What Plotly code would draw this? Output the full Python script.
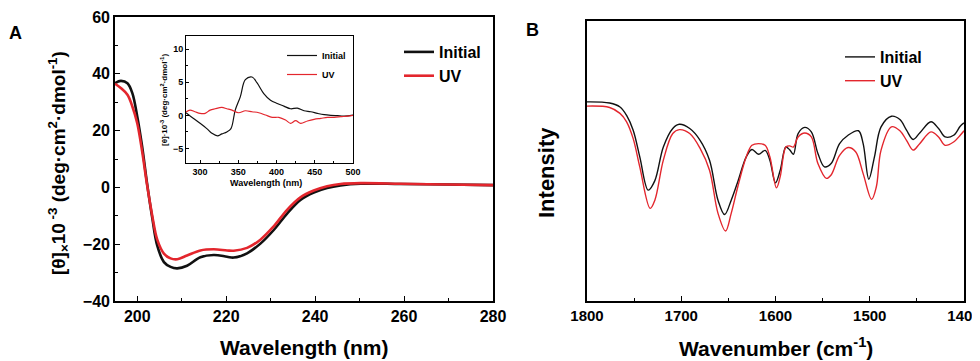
import plotly.graph_objects as go

# ---------------- Panel A: CD spectra (far-UV) ----------------
a_wl_init = [195, 196.3, 197.8, 198.9, 200, 201.1, 202.2, 203.4, 204.5, 206, 207.5, 209, 211.2,
             214.2, 217.2, 220.2, 221.7, 224.7, 227.7, 230.7, 233.7, 236.7, 239.7, 242.7,
             245.7, 250.2, 259.2, 270, 280]
a_init = [36.7, 37.5, 36.7, 33.2, 25.0, 14.4, 1.5, -11.0, -20.5, -26.3, -28.0, -28.5, -27.6,
          -24.6, -23.8, -24.4, -24.7, -23.2, -19.8, -15.0, -9.2, -4.4, -1.8, -0.2,
          0.7, 1.3, 1.2, 1.0, 0.8]
a_wl_uv = [195, 196.3, 197.8, 198.9, 200, 201.1, 202.2, 203.4, 204.5, 206, 207.5, 209, 211.2,
           214.2, 217.2, 220.2, 221.7, 224.7, 227.7, 230.7, 233.7, 236.7, 239.7, 242.7,
           245.7, 250.2, 259.2, 270, 280]
a_uv = [36.5, 35.0, 32.6, 28.5, 22.6, 12.7, 1.0, -10.2, -18.4, -23.3, -25.0, -25.3, -24.0,
        -22.2, -21.8, -22.2, -22.3, -21.3, -18.4, -13.7, -7.9, -3.5, -1.1, 0.4,
        1.2, 1.5, 1.3, 1.0, 0.8]

# ---------------- Inset: near-UV CD ----------------
i_wl_init = [281.6, 291, 300, 308.8, 315.4, 322.8, 328.5, 335, 340.4, 346, 352.6, 359.2, 368,
             374.6, 383.3, 392.1, 400.9, 409.6, 418.4, 427.2, 436, 444.7, 453.5, 462.3,
             471, 479.8, 488.6, 500]
i_init = [0.4, -0.45, -1.2, -2.0, -2.7, -3.1, -2.8, -2.5, -2.0, 0.8, 2.8, 5.4, 5.8,
          4.9, 3.3, 2.3, 1.8, 1.4, 1.0, 1.1, 0.7, 0.55, 0.3, 0.1,
          0.0, -0.05, -0.1, 0.05]
i_wl_uv = [281.6, 286.8, 293.4, 300, 306.6, 313.2, 319.7, 328.5, 335, 341.7, 350.4, 359.2, 368,
           376.8, 385.5, 394.3, 403, 411.8, 418.4, 425, 431.6, 440.4, 449.1, 457.9,
           466.7, 475.4, 484.2, 493, 500]
i_uv = [0.5, 0.8, 0.55, 0.3, 0.3, 0.8, 1.0, 1.2, 1.0, 0.8, 0.4, 0.7, 0.55,
        0.4, 0.05, -0.3, -0.3, -0.7, -1.2, -0.8, -1.2, -0.85, -0.6, -0.45,
        -0.3, -0.3, -0.2, -0.1, 0.0]

# ---------------- Panel B: FTIR ----------------
b_wn_init = [1800, 1776, 1765, 1758, 1751, 1744, 1735, 1728, 1719, 1709, 1702, 1691, 1680, 1670,
             1661, 1654, 1647, 1640, 1631, 1625, 1618, 1611, 1606, 1600, 1595, 1589, 1585,
             1581, 1576, 1569, 1562, 1555, 1548, 1541, 1532, 1523, 1512, 1507, 1501, 1495,
             1488, 1477, 1468, 1461, 1454, 1447, 1435, 1427, 1420, 1411, 1404, 1400]
b_init = [71.1, 70.7, 69.3, 66.3, 61.0, 51.5, 39.6, 43.0, 55.0, 61.6, 63.1, 61.6, 57.4, 50.3,
          36.0, 30.9, 36.0, 42.6, 51.5, 54.1, 52.4, 53.8, 50.3, 42.2, 46.7, 55.0, 54.0,
          52.4, 59.8, 62.0, 60.4, 52.7, 47.9, 49.1, 56.2, 59.2, 60.8, 56.2, 43.5, 51.5,
          62.2, 66.0, 64.8, 61.0, 57.7, 60.0, 64.0, 61.6, 58.6, 59.2, 62.4, 63.6]
b_wn_uv = [1800, 1776, 1765, 1758, 1751, 1744, 1733, 1728, 1719, 1709, 1702, 1691, 1680, 1670,
           1661, 1653, 1647, 1640, 1631, 1625, 1618, 1611, 1606, 1599, 1595, 1589, 1585,
           1581, 1576, 1569, 1562, 1555, 1546, 1541, 1532, 1523, 1515, 1507, 1498, 1493,
           1488, 1477, 1468, 1461, 1454, 1447, 1435, 1427, 1420, 1411, 1404, 1400]
b_uv = [69.6, 69.1, 67.0, 64.0, 58.0, 47.9, 33.1, 36.0, 50.3, 59.8, 61.2, 59.8, 54.5, 46.7,
        31.3, 25.0, 31.3, 40.8, 51.5, 55.6, 56.2, 55.6, 51.5, 40.4, 44.4, 55.0, 55.4,
        55.0, 58.6, 60.0, 58.6, 49.1, 43.8, 45.0, 52.0, 54.8, 53.3, 45.5, 36.3, 40.8,
        53.9, 62.2, 60.8, 57.4, 53.9, 56.2, 60.4, 58.6, 55.6, 56.8, 59.2, 60.8]

BLACK = "#111111"
RED = "#e3262d"
FONT = "Arial, Liberation Sans, sans-serif"

fig = go.Figure()

fig.add_trace(go.Scatter(x=a_wl_init, y=a_init, mode="lines", name="Initial",
                         line=dict(color=BLACK, width=2.6, shape="spline"),
                         xaxis="x", yaxis="y", legend="legend"))
fig.add_trace(go.Scatter(x=a_wl_uv, y=a_uv, mode="lines", name="UV",
                         line=dict(color=RED, width=2.6, shape="spline"),
                         xaxis="x", yaxis="y", legend="legend"))
fig.add_trace(go.Scatter(x=i_wl_init, y=i_init, mode="lines", name="Initial",
                         line=dict(color=BLACK, width=1.2, shape="spline"),
                         xaxis="x2", yaxis="y2", legend="legend2"))
fig.add_trace(go.Scatter(x=i_wl_uv, y=i_uv, mode="lines", name="UV",
                         line=dict(color=RED, width=1.2, shape="spline"),
                         xaxis="x2", yaxis="y2", legend="legend2"))
fig.add_trace(go.Scatter(x=b_wn_init, y=b_init, mode="lines", name="Initial",
                         line=dict(color=BLACK, width=1.4, shape="spline"),
                         xaxis="x3", yaxis="y3", legend="legend3"))
fig.add_trace(go.Scatter(x=b_wn_uv, y=b_uv, mode="lines", name="UV",
                         line=dict(color=RED, width=1.4, shape="spline"),
                         xaxis="x3", yaxis="y3", legend="legend3"))

# page body has an 8px default margin; the figure fills the rest of the window
OFF = 8
W, H = 980 - OFF, 361 - OFF
def dx(p): return (p - OFF) / W
def dy(p): return 1 - (p - OFF) / H

common = dict(showline=True, linecolor="black", mirror=True, showgrid=False, zeroline=False,
              ticks="inside", tickcolor="black", automargin=False, ticklabeloverflow="allow")

fig.update_layout(
    width=W, height=H, margin=dict(l=0, r=0, t=0, b=0, autoexpand=False),
    paper_bgcolor="white", plot_bgcolor="white",
    font=dict(family=FONT, color="black"),
    xaxis=dict(**common, domain=[dx(115), dx(493)], range=[195, 280], dtick=20, tick0=200,
               ticklen=5, linewidth=1.6,
               tickfont=dict(size=16, family=FONT, weight="bold"),
               minor=dict(dtick=10, tick0=200, ticklen=3, ticks="inside", tickcolor="black"),
               anchor="y"),
    yaxis=dict(**common, domain=[dy(301), dy(17)], range=[-40, 60], dtick=20,
               ticklen=5, linewidth=1.6,
               tickfont=dict(size=16, family=FONT, weight="bold"),
               minor=dict(dtick=10, ticklen=3, ticks="inside", tickcolor="black"),
               anchor="x"),
    xaxis2=dict(**common, domain=[dx(186), dx(353)], range=[281.6, 500], dtick=50, tick0=300,
                ticklen=3, linewidth=1,
                tickfont=dict(size=9, family=FONT, weight="bold"),
                minor=dict(dtick=25, tick0=300, ticklen=2, ticks="inside", tickcolor="black"),
                anchor="y2"),
    yaxis2=dict(**common, domain=[dy(163), dy(36)], range=[-7.2, 12], dtick=5,
                ticklen=3, linewidth=1,
                tickfont=dict(size=9, family=FONT, weight="bold"),
                minor=dict(dtick=2.5, ticklen=2, ticks="inside", tickcolor="black"),
                anchor="x2"),
    xaxis3=dict(**common, domain=[dx(587), dx(964)], range=[1800, 1400], dtick=100, tick0=1400,
                ticklen=5, linewidth=1.6,
                tickfont=dict(size=15, family=FONT, weight="bold"),
                minor=dict(dtick=50, ticklen=3, ticks="inside", tickcolor="black"),
                anchor="y3"),
    yaxis3=dict(showline=True, linecolor="black", mirror=True, showgrid=False, zeroline=False,
                automargin=False,
                linewidth=1.6, domain=[dy(301), dy(21)], range=[0, 100], showticklabels=False,
                ticks="", anchor="x3"),
    legend=dict(x=dx(399), y=dy(35), xanchor="left", yanchor="top", bgcolor="rgba(0,0,0,0)",
                font=dict(size=16, family=FONT, weight="bold"), tracegroupgap=0, itemwidth=30),
    legend2=dict(x=dx(282), y=dy(41), xanchor="left", yanchor="top", bgcolor="rgba(0,0,0,0)",
                 font=dict(size=9, family=FONT, weight="bold"), tracegroupgap=0, itemwidth=30),
    legend3=dict(x=dx(840), y=dy(40), xanchor="left", yanchor="top", bgcolor="rgba(0,0,0,0)",
                 font=dict(size=16, family=FONT, weight="bold"), tracegroupgap=0, itemwidth=30),
    showlegend=True,
)

ann = [
    dict(text="A", x=dx(15), y=dy(33), font=dict(size=18, weight="bold")),
    dict(text="B", x=dx(532), y=dy(30), font=dict(size=18, weight="bold")),
    dict(text="Wavelength (nm)", x=dx(304), y=dy(347), font=dict(size=21, weight="bold")),
    dict(text="Wavenumber (cm<sup>-1</sup>)", x=dx(776), y=dy(347), font=dict(size=21, weight="bold")),
    dict(text="[θ]<sub>×</sub>10<sup> -3</sup> (deg·cm<sup>2</sup>·dmol<sup>-1</sup>)",
         x=dx(58), y=dy(163), textangle=-90, font=dict(size=19, weight="bold")),
    dict(text="Intensity", x=dx(547), y=dy(173), textangle=-90, font=dict(size=22, weight="bold")),
    dict(text="Wavelength (nm)", x=dx(266), y=dy(183), font=dict(size=9, weight="bold")),
    dict(text="[θ]·10<sup>-3</sup> (deg·cm<sup>2</sup>·dmol<sup>-1</sup>)",
         x=dx(164), y=dy(100), textangle=-90, font=dict(size=8, weight="bold")),
]
for a in ann:
    a.update(xref="paper", yref="paper", showarrow=False, xanchor="center", yanchor="middle")
    a["font"].setdefault("family", FONT)
    a["font"].setdefault("color", "black")
fig.update_layout(annotations=ann)

fig.write_html("out.html")
